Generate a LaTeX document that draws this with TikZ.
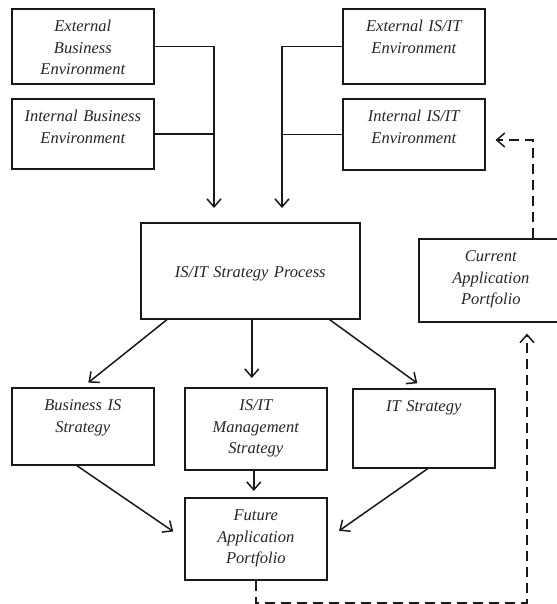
\documentclass[tikz,border=0pt]{standalone}
\usepackage{fontspec}
\setmainfont{Liberation Serif}
\usepackage{tikz}
\usetikzlibrary{arrows.meta}

\begin{document}
\begin{tikzpicture}[
  x=1pt, y=-1pt,
  blk/.style={draw=black!90, line width=1.6pt, anchor=north west,
              text width=142pt, align=center, inner sep=0pt,
              text height=23pt, text=black!85,
              font=\itshape\fontsize{16.5}{21.5}\selectfont},
  link/.style={draw=black!90, line width=1.5pt,
               -{Straight Barb[length=8pt,width=14pt]}},
  back/.style={link, dash pattern=on 10pt off 6pt}
]
  \useasboundingbox (0,0) rectangle (556,604);

  \node[blk, text depth=52pt] (EB) at (11,8)  {External\\Business\\Environment};
  \node[blk, text depth=47pt] (IB) at (11,98) {Internal Business\\Environment};
  \node[blk, text depth=52pt] (EI) at (342,8)  {External IS/IT\\Environment};
  \node[blk, text depth=48pt] (II) at (342,98) {Internal IS/IT\\Environment};

  \node[blk, text width=219pt, text height=55pt, text depth=41pt]
    (PR) at (140,222) {IS/IT Strategy Process};
  \node[blk, text width=144pt, text depth=60pt]
    (CU) at (418,238) {Current\\Application\\Portfolio};

  \node[blk, text depth=54pt] (BS) at (11,387)  {Business IS\\Strategy};
  \node[blk, text depth=59pt] (MS) at (184,387) {IS/IT\\Management\\Strategy};
  \node[blk, text depth=56pt] (IT) at (352,388) {IT Strategy};
  \node[blk, text depth=59pt] (FU) at (184,497) {Future\\Application\\Portfolio};

  % environments into the process
  \coordinate (inL) at (214,208);
  \coordinate (inR) at (282,208);
  \draw[link] (EB.east) -| (inL);
  \draw[link] (EI.west) -| (inR);
  \draw[draw=black!90, line width=1.5pt] (IB.east) -- (IB.east -| inL);
  \draw[draw=black!90, line width=1.5pt] (II.west) -- (II.west -| inR);

  % process into the three strategies
  \draw[link, shorten >=7pt] ([xshift=27]PR.south west) -- (BS.north);
  \draw[link, shorten >=9pt] ([xshift=1.5]PR.south) -- ([xshift=1.5]PR.south |- MS.north);
  \draw[link, shorten >=8pt] ([xshift=-31]PR.south east) -- (IT.north);

  % strategies into the future portfolio
  \draw[link, shorten >=13pt] ([xshift=-6]BS.south) -- (FU.west);
  \draw[link, shorten >=6pt] ([xshift=-2]MS.south) -- ([xshift=-2]FU.north);
  \draw[link, shorten >=14pt] ([xshift=4]IT.south) -- (FU.east);

  % feedback loop
  \coordinate (lp) at (527,603);
  \coordinate (rp) at (533,140);
  \draw[back, shorten >=11pt] (FU.south) |- (lp) -- (lp |- CU.south);
  \draw[back, shorten >=10pt] (rp |- CU.north) -- (rp) -- (rp -| II.east);
\end{tikzpicture}
\end{document}
